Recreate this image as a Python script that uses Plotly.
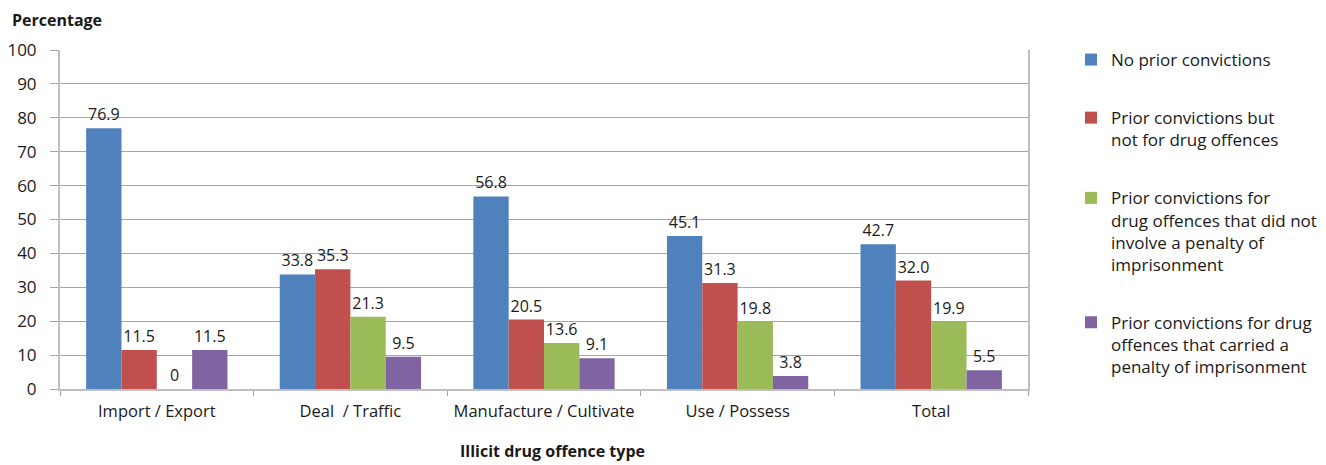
import plotly.graph_objects as go

categories = ["Import / Export", "Deal  / Traffic", "Manufacture / Cultivate", "Use / Possess", "Total"]
series_names = [
    "No prior convictions",
    "Prior convictions but<br>not for drug offences",
    "Prior convictions for<br>drug offences that did not<br>involve a penalty of<br>imprisonment",
    "Prior convictions for drug<br>offences that carried a<br>penalty of imprisonment",
]
no_prior = [76.9, 33.8, 56.8, 45.1, 42.7]
prior_not_drug = [11.5, 35.3, 20.5, 31.3, 32.0]
prior_drug_no_prison = [0, 21.3, 13.6, 19.8, 19.9]
prior_drug_prison = [11.5, 9.5, 9.1, 3.8, 5.5]
colors = ["#4F81BD", "#C0504D", "#9BBB59", "#8064A2"]
y_ticks = list(range(0, 101, 10))

FONT = "Open Sans"
fig = go.Figure()
for i, (name, vals) in enumerate(zip(series_names, [no_prior, prior_not_drug, prior_drug_no_prison, prior_drug_prison])):
    fig.add_trace(go.Bar(
        x=categories, y=vals, name=name, marker_color=colors[i], marker_line_width=0,
        text=[f"{v:.1f}" if v != 0 else "0" for v in vals],
        textposition="outside", cliponaxis=False,
        textfont=dict(size=16, color="#1a1a1a", family=FONT),
        legendgroup=f"g{i}",
    ))

# page has 8px body margin; figure coordinates = reference pixels - 8
OFF = 8
W, H = 1326 - OFF, 465 - OFF
L, T = 60 - OFF, 50 - OFF
pw, ph = 968, 339
R, B = W - L - pw, H - T - ph

def px(xs):
    return (xs - OFF - L) / pw

def py(ys):
    return (389 - ys) / ph

def cy(ys):
    return 1 - (ys - OFF) / H

fig.update_layout(
    width=W, height=H,
    margin=dict(l=L, r=R, t=T, b=B, autoexpand=False),
    paper_bgcolor="white", plot_bgcolor="white",
    barmode="group", bargap=0.27, bargroupgap=0,
    font=dict(family=FONT, size=16, color="#1a1a1a"),
    showlegend=True,
    legend=dict(
        x=px(1071), y=cy(42), yref="container", xanchor="left", yanchor="top",
        valign="top", tracegroupgap=33, traceorder="grouped",
        font=dict(size=17, family=FONT, color="#1a1a1a"),
        itemwidth=30, maxheight=1,
    ),
    xaxis=dict(
        type="category", tickson="boundaries", ticks="outside", ticklen=5,
        tickcolor="#A6A6A6", showline=True, linecolor="#BFBFBF", linewidth=2,
        mirror=False, showgrid=False, tickfont=dict(size=16.5, family=FONT),
        ticklabelstandoff=6,
    ),
    yaxis=dict(
        range=[0, 100], tickvals=y_ticks, ticks="outside", ticklen=8,
        tickcolor="#A6A6A6", showline=True, linecolor="#BFBFBF", linewidth=2,
        mirror=True, showgrid=True, gridcolor="#A6A6A6", gridwidth=1,
        zeroline=False, tickfont=dict(size=17, family=FONT),
        ticklabelstandoff=10,
    ),
    annotations=[
        dict(text="<b>Percentage</b>", xref="paper", yref="paper",
             x=px(10), y=py(20), xanchor="left", yanchor="middle",
             showarrow=False, font=dict(size=16, family=FONT)),
        dict(text="<b>Illicit drug offence type</b>", xref="paper", yref="paper",
             x=px(552), y=py(451), xanchor="center", yanchor="middle",
             showarrow=False, font=dict(size=16, family=FONT)),
    ],
)

fig.write_html("out.html")
